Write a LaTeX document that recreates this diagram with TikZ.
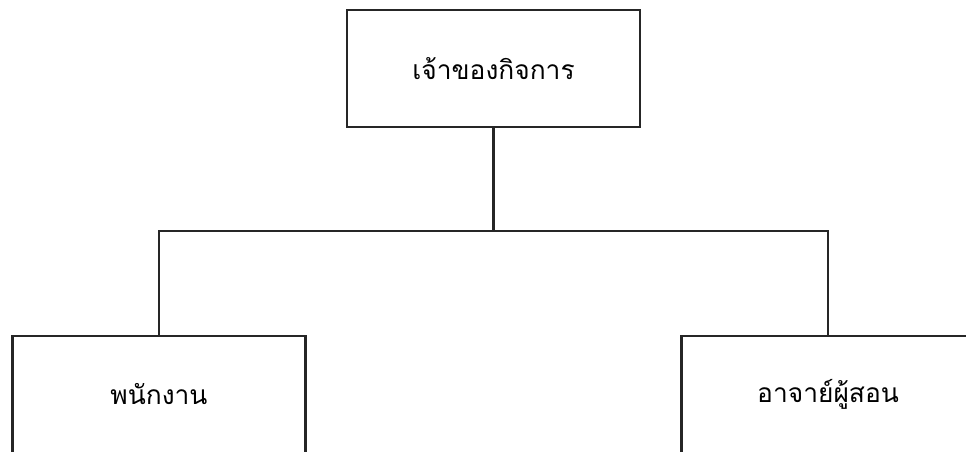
\documentclass[tikz,border=0pt]{standalone}
\usepackage{fontspec}
\newfontfamily\thaifont[Script=Thai]{Loma}

\begin{document}
\begin{tikzpicture}[x=0.02cm, y=-0.02cm, line width=1.2pt,
    every node/.style={rectangle, draw=black!85, fill=white, minimum width=5.86cm, minimum height=2.34cm, font=\thaifont\fontsize{15}{18}\selectfont}]
    \clip (0,0) rectangle (966,451);
    \node (owner) at (493.5,68.5) {เจ้าของกิจการ};
    \node (staff) at (159,394.5) {พนักงาน};
    \node (teacher) at (828,394.5) {อาจาย์ผู้สอน};
    \coordinate (split) at (493.5,231);

    \draw[black!85] (owner.south) -- (split);
    \draw[black!85] (staff.north) |- (split) -| (teacher.north);
\end{tikzpicture}
\end{document}
